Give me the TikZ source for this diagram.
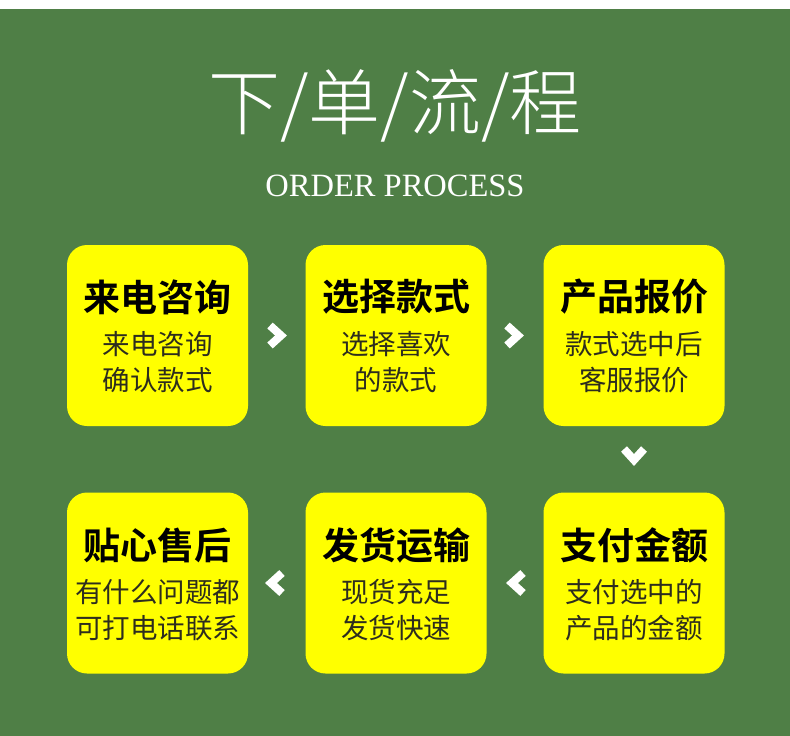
\documentclass[tikz,border=0pt]{standalone}
\usepackage{fontspec}
\newfontfamily\cjk{Noto Sans CJK SC}
\newfontfamily\cjkbold{Noto Sans CJK SC Bold}
\newfontfamily\song{Noto Sans CJK SC Light}
\setmainfont{Liberation Serif}
\definecolor{bggreen}{RGB}{79,127,70}
\definecolor{boxyellow}{RGB}{255,255,0}
\definecolor{subtext}{RGB}{45,45,30}
\begin{document}
\begin{tikzpicture}[x=1pt,y=-1pt,
  card/.style={fill=boxyellow, rounded corners=20pt, minimum width=181pt, minimum height=181pt, inner sep=0pt},
  headtxt/.style={font=\cjkbold\fontsize{37}{42}\selectfont, text=black},
  subtxt/.style={font=\cjk\fontsize{27.5}{36}\selectfont, text=subtext, align=center},
  chev/.style={draw=white, line width=8pt, miter limit=10, line join=miter}]
\useasboundingbox (0,0) rectangle (790,736);
\fill[white] (0,0) rectangle (790,9);
\fill[bggreen] (0,9) rectangle (790,736);
% title
\node (title) at (395,106) {\song\fontsize{72}{76}\selectfont\textcolor{white}{下/单/流/程}};
\node (subtitle) at (395,186) {\fontsize{32.5}{36}\selectfont\textcolor{white}{ORDER PROCESS}};
% cards
\node[card] (c1) at (157.5,335.5) {};
\node[card] (c2) at (396,335.5) {};
\node[card] (c3) at (634,335.5) {};
\node[card] (c4) at (634,583) {};
\node[card] (c5) at (396,583) {};
\node[card] (c6) at (157.5,583) {};
% texts
\node[headtxt] (h1) at (157.5,297) {来电咨询};
\node[subtxt] (s1) at (157.5,362) {来电咨询\\确认款式};
\node[headtxt] (h2) at (396,297) {选择款式};
\node[subtxt] (s2) at (396,362) {选择喜欢\\的款式};
\node[headtxt] (h3) at (634,297) {产品报价};
\node[subtxt] (s3) at (634,362) {款式选中后\\客服报价};
\node[headtxt] (h4) at (634,545) {支付金额};
\node[subtxt] (s4) at (634,610) {支付选中的\\产品的金额};
\node[headtxt] (h5) at (396,545) {发货运输};
\node[subtxt] (s5) at (396,610) {现货充足\\发货快速};
\node[headtxt] (h6) at (157.5,545) {贴心售后};
\node[subtxt] (s6) at (157.5,610) {有什么问题都\\可打电话联系};
% chevrons
\coordinate (a1) at (276,335.5);
\coordinate (a2) at (513,335.5);
\coordinate (a3) at (634,455);
\coordinate (a4) at (517,583);
\coordinate (a5) at (276,583);
\draw[chev] ([shift={(-6,-10)}]a1) -- ([shift={(5,0)}]a1) -- ([shift={(-6,10)}]a1);
\draw[chev] ([shift={(-6,-10)}]a2) -- ([shift={(5,0)}]a2) -- ([shift={(-6,10)}]a2);
\draw[chev] ([shift={(-10,-6)}]a3) -- ([shift={(0,5)}]a3) -- ([shift={(10,-6)}]a3);
\draw[chev] ([shift={(6,-10)}]a4) -- ([shift={(-5,0)}]a4) -- ([shift={(6,10)}]a4);
\draw[chev] ([shift={(6,-10)}]a5) -- ([shift={(-5,0)}]a5) -- ([shift={(6,10)}]a5);
\end{tikzpicture}
\end{document}
